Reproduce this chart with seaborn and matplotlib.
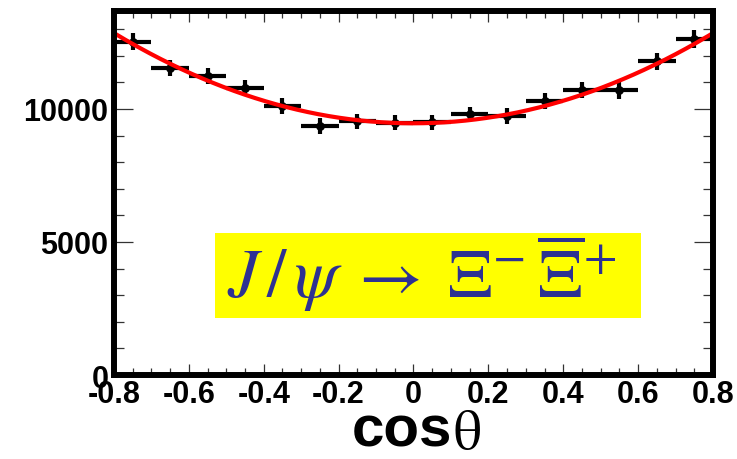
import numpy as np
import pandas as pd
import matplotlib
matplotlib.use("Agg")
import matplotlib.pyplot as plt
from matplotlib.patches import Rectangle
from matplotlib.ticker import MultipleLocator
import seaborn as sns

# ---- data ----
cos_centers = [-0.75, -0.65, -0.55, -0.45, -0.35, -0.25, -0.15, -0.05,
               0.05, 0.15, 0.25, 0.35, 0.45, 0.55, 0.65, 0.75]
counts = [12530, 11530, 11230, 10790, 10100, 9370, 9535, 9475,
          9500, 9810, 9750, 10310, 10710, 10710, 11790, 12630]
count_err = [330, 300, 300, 300, 300, 300, 280, 280,
             280, 280, 300, 300, 300, 330, 330, 330]
bin_half_width = 0.05

# fitted curve parameters  N (1 + alpha cos^2 theta)
fit_norm = 9460
fit_alpha = 0.56

x_ticks = [-0.8, -0.6, -0.4, -0.2, 0.0, 0.2, 0.4, 0.6, 0.8]
x_tick_labels = ["-0.8", "-0.6", "-0.4", "-0.2", "0", "0.2", "0.4", "0.6", "0.8"]
y_ticks = [0, 5000, 10000]
y_tick_labels = ["0", "5000", "10000"]
x_label_main = "cos"
x_label_greek = r"$\mathrm{\theta}$"
box_label = r"$J\,/\,\psi\;\rightarrow\;\Xi^{-}\,\overline{\Xi}^{+}$"

# ---- styling ----
sns.set_theme(style="white")
plt.rcParams["font.family"] = ["Liberation Sans", "DejaVu Sans"]
plt.rcParams["mathtext.fontset"] = "stix"
plt.rcParams["text.color"] = "black"

fig = plt.figure(figsize=(7.37, 4.60), dpi=100)
ax = fig.add_axes([0.1547, 0.1826, 0.8127, 0.7913])

df_pts = pd.DataFrame({"x": cos_centers, "y": counts, "err": count_err})

ax.errorbar(df_pts["x"], df_pts["y"], xerr=bin_half_width, yerr=df_pts["err"],
            fmt="none", ecolor="black", elinewidth=3.0, capsize=0, zorder=3)
sns.scatterplot(data=df_pts, x="x", y="y", ax=ax, color="black", s=40,
                edgecolor="black", linewidth=0, zorder=4, legend=False)

xc = np.linspace(-0.8, 0.8, 400)
df_fit = pd.DataFrame({"x": xc, "y": fit_norm * (1 + fit_alpha * xc ** 2)})
sns.lineplot(data=df_fit, x="x", y="y", ax=ax, color="#ff0000", linewidth=3.0,
             zorder=5, legend=False)

ax.set_xlim(-0.8, 0.8)
ax.set_ylim(0, 13680)
ax.set_xlabel("")
ax.set_ylabel("")

ax.set_xticks(x_ticks)
ax.set_xticklabels(x_tick_labels, fontsize=22, fontweight="bold", color="black")
ax.set_yticks(y_ticks)
ax.set_yticklabels(y_tick_labels, fontsize=22, fontweight="bold", color="black")
ax.xaxis.set_minor_locator(MultipleLocator(0.05))
ax.yaxis.set_minor_locator(MultipleLocator(1000))

ax.tick_params(axis="x", which="major", direction="in", length=8, width=0.9,
               color="#333333", top=True, bottom=True, pad=3)
ax.tick_params(axis="x", which="minor", direction="in", length=5, width=0.9,
               color="#333333", top=True, bottom=True)
ax.tick_params(axis="y", which="major", direction="in", length=14, width=0.9,
               color="#333333", left=True, right=True, pad=4)
ax.tick_params(axis="y", which="minor", direction="in", length=7, width=0.9,
               color="#333333", left=True, right=True)

for sp in ax.spines.values():
    sp.set_visible(True)
    sp.set_linewidth(4.3)
    sp.set_color("black")
    sp.set_zorder(6)

# x label: bold "cos" + upright theta
fig.text(0.477, 0.030, x_label_main, fontsize=42, fontweight="bold",
         ha="left", va="baseline", color="black")
fig.text(0.614, 0.024, x_label_greek, fontsize=40,
         ha="left", va="baseline", color="black")

# yellow label box
box = Rectangle((0.2917, 0.3065), 0.578, 0.1848, transform=fig.transFigure,
                facecolor="#ffff00", edgecolor="none", zorder=7)
fig.patches.append(box)
fig.text(0.5720, 0.405, box_label, fontsize=50, color="#2E3192",
         ha="center", va="center", zorder=8)

fig.savefig("out.png", dpi=100)
